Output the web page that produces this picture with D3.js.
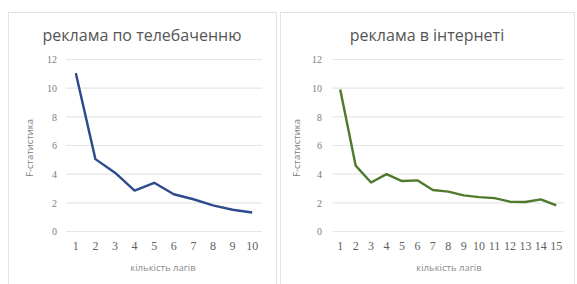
<!DOCTYPE html>
<html>
<head>
<meta charset="utf-8">
<script src="https://cdn.jsdelivr.net/npm/d3@7"></script>
<style>
body { margin: 0; background: #fff; }
text { font-family: "Open Sans", "Liberation Sans", sans-serif; }
</style>
</head>
<body>
<div class="charts"></div>
<script>
// дані
var tvLags = [1, 2, 3, 4, 5, 6, 7, 8, 9, 10];
var tvF = [11.05, 5.05, 4.1, 2.85, 3.4, 2.6, 2.25, 1.82, 1.52, 1.33];
var netLags = [1, 2, 3, 4, 5, 6, 7, 8, 9, 10, 11, 12, 13, 14, 15];
var netF = [9.9, 4.6, 3.42, 4.0, 3.52, 3.57, 2.9, 2.78, 2.52, 2.4, 2.33, 2.08, 2.06, 2.24, 1.82];
var yTicks = [0, 2, 4, 6, 8, 10, 12];

var w = 577, h = 284;
var svg = d3.select(".charts").append("svg")
  .attr("width", w).attr("height", h);

function drawChart(opt) {
  var g = svg.append("g");
  g.append("rect")
    .attr("x", opt.box[0] + 0.5).attr("y", opt.box[1] + 0.5)
    .attr("width", opt.box[2]).attr("height", opt.box[3])
    .attr("fill", "#fff").attr("stroke", "#e3e3e3");

  var x = d3.scaleBand().domain(opt.lags).range([opt.left, opt.right]);
  var y = d3.scaleLinear().domain([0, 12]).range([231.5, 59.5]);

  g.selectAll(".grid").data(yTicks).enter().append("line")
    .attr("x1", opt.left).attr("x2", opt.right)
    .attr("y1", function(d) { return y(d); })
    .attr("y2", function(d) { return y(d); })
    .attr("stroke", "#e6e6e6").attr("stroke-width", 1.2);

  var ya = d3.axisLeft(y).tickValues(yTicks).tickSize(0).tickPadding(0);
  g.append("g").attr("transform", "translate(" + opt.yLabelX + ",0)").call(ya)
    .call(function(a) { a.select(".domain").remove(); })
    .selectAll("text").attr("fill", "#7c7c7c").style("font-size", "10px")
    .style("font-family", "'Liberation Serif', serif");

  var xa = d3.axisBottom(x).tickSize(0).tickPadding(0);
  g.append("g").attr("transform", "translate(0,241)").call(xa)
    .call(function(a) { a.select(".domain").remove(); })
    .selectAll("text").attr("fill", "#5f5f5f").style("font-size", "12px")
    .style("font-family", "'Liberation Serif', serif");

  var line = d3.line()
    .x(function(d, i) { return x(opt.lags[i]) + x.bandwidth() / 2; })
    .y(function(d) { return y(d); });
  g.append("path").datum(opt.values)
    .attr("d", line).attr("fill", "none")
    .attr("stroke", opt.color).attr("stroke-width", 2.4)
    .attr("stroke-linejoin", "round");

  g.append("text").attr("x", opt.titleX).attr("y", 41)
    .attr("text-anchor", "middle").attr("fill", "#555")
    .style("font-size", "16px").text(opt.title);

  g.append("text").attr("x", opt.xTitleX).attr("y", 271)
    .attr("text-anchor", "middle").attr("fill", "#8a8a8a")
    .style("font-size", "9.5px").text("кількість лагів");

  g.append("text")
    .attr("transform", "translate(" + opt.yTitleX + ",148) rotate(-90)")
    .attr("text-anchor", "middle").attr("fill", "#7a7a7a")
    .style("font-size", "9.5px").text("F-статистика");
}

drawChart({
  box: [8, 12, 268, 272], lags: tvLags, values: tvF, color: "#2d4b8c",
  left: 66, right: 262, yLabelX: 57, yTitleX: 33, xTitleX: 163,
  title: "реклама по телебаченню", titleX: 142
});

drawChart({
  box: [280, 12, 294, 272], lags: netLags, values: netF, color: "#4f7a2e",
  left: 332.5, right: 564, yLabelX: 322, yTitleX: 300, xTitleX: 449,
  title: "реклама в інтернеті", titleX: 427
});
</script>
</body>
</html>
